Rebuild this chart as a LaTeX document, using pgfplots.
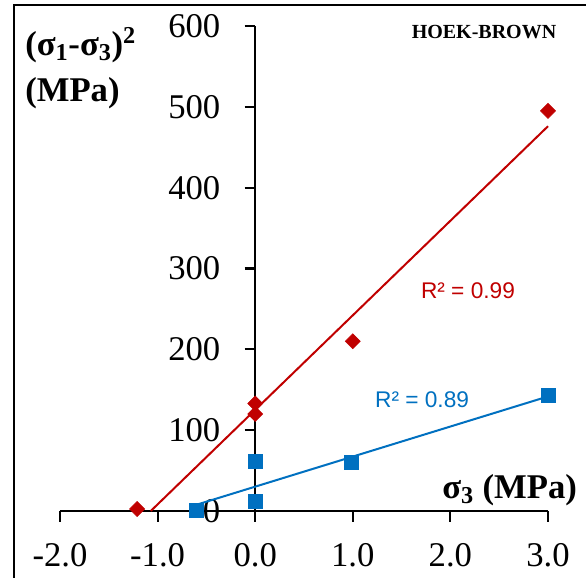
\documentclass[border=0pt]{standalone}
\usepackage{pgfplots}
\pgfplotsset{compat=1.18}
\usepackage{fontspec}
\setmainfont{Liberation Serif}
\newfontfamily\arialf{Liberation Sans}
\definecolor{xred}{HTML}{C00000}
\definecolor{xblue}{HTML}{0070C0}
\begin{document}
\begin{tikzpicture}[x=1pt,y=1pt]
\useasboundingbox (0,0) rectangle (439.5,433.5);
\draw[line width=1.2pt] (10.5,-5) -- (10.5,429.75) -- (445,429.75);
\begin{axis}[
  at={(45pt,50.25pt)}, anchor=south west,
  scale only axis, width=366pt, height=363.75pt,
  xmin=-2, xmax=3, ymin=0, ymax=600,
  axis lines=middle, axis line style={-, line width=1.6pt},
  hide obscured x ticks=false, hide obscured y ticks=false,
  xtick={-2,-1,0,1,2,3}, xticklabels={-2.0,-1.0,0.0,1.0,2.0,3.0},
  ytick={0,100,200,300,400,500,600}, yticklabels={0,100,200,300,400,500,600},
  tick align=outside, major tick length=8pt,
  tick style={line width=1.6pt, black},
  x tick label style={anchor=north, font=\fontsize{26}{30}\selectfont, inner sep=0pt, yshift=-16pt},
  y tick label style={anchor=east, font=\fontsize{26}{30}\selectfont, inner sep=0pt, xshift=-18pt},
  clip=false,
]
\addplot[no marks, line width=1.5pt, color=xred] coordinates {(-1.07,0) (3,476)};
\addplot[no marks, line width=1.5pt, color=xblue] coordinates {(-0.6,7.8) (3,141.7)};
\addplot[only marks, mark=square*, mark size=4pt, mark options={rotate=45}, color=xred]
  coordinates {(-1.21,2.5) (0,133) (0,120) (1,210) (3,495)};
\addplot[only marks, mark=square*, mark size=5.2pt, color=xblue]
  coordinates {(-0.6,1) (0,61) (0,12) (0.98,60) (3,143)};
\node[color=xred, font=\arialf\fontsize{17}{20}\selectfont] at (axis cs:2.18,272) {R² = 0.99};
\node[color=xblue, font=\arialf\fontsize{17}{20}\selectfont] at (axis cs:1.71,138) {R² = 0.89};
\end{axis}
\node[font=\bfseries\fontsize{15}{18}\selectfont] at (363,409.5) {HOEK-BROWN};
\node[anchor=west, inner sep=0pt, font=\bfseries\fontsize{26}{30}\selectfont] at (18.75,399.75) {(σ\textsubscript{1}-σ\textsubscript{3})\textsuperscript{2}};
\node[anchor=west, inner sep=0pt, font=\bfseries\fontsize{26}{30}\selectfont] at (18.75,363.75) {(MPa)};
\node[anchor=west, inner sep=0pt, font=\bfseries\fontsize{26}{30}\selectfont] at (331.5,66) {σ\textsubscript{3} (MPa)};
\end{tikzpicture}
\end{document}
